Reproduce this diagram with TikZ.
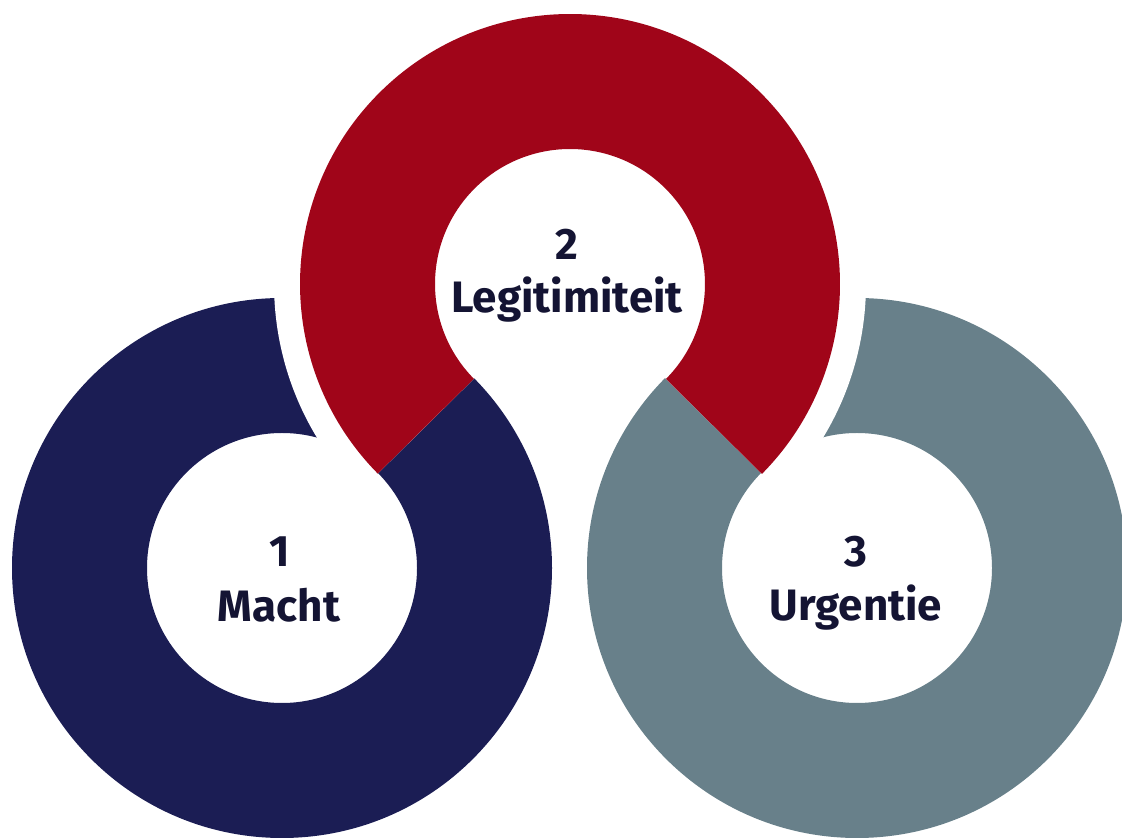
\documentclass[tikz,border=0pt]{standalone}
\usepackage{fontspec}
\setmainfont{Fira Sans}
\definecolor{navyring}{HTML}{1B1D54}
\definecolor{redring}{HTML}{A00519}
\definecolor{greyring}{HTML}{68808A}
\definecolor{labelcol}{HTML}{141433}
\tikzset{
  lbl/.style={inner sep=0pt, anchor=base, text=labelcol, font=\bfseries\fontsize{44}{50}\selectfont},
}
\begin{document}
\begin{tikzpicture}[x=1pt,y=1pt]
\useasboundingbox (0,0) rectangle (1122,838);
\clip (0,0) rectangle (1122,838);
\coordinate (cn) at (282,270);
\coordinate (cr) at (570,554);
\coordinate (cg) at (857,270);
% navy and grey full rings
\fill[navyring, even odd rule] (cn) circle[radius=270] (cn) circle[radius=135];
\fill[greyring, even odd rule] (cg) circle[radius=270] (cg) circle[radius=135];
% white gap around red ring
\fill[white] (cr) -- ++(-44.7:296) arc[start angle=-44.7, end angle=224.6, radius=296] -- cycle;
% red ring sector
\fill[redring] ([shift={(-44.7:270)}]cr) arc[start angle=-44.7, end angle=224.6, radius=270]
  -- ([shift={(224.6:135)}]cr) arc[start angle=224.6, end angle=-44.7, radius=135] -- cycle;
% labels
\node[lbl] (n1) at (280,271) {1};
\node[lbl] (t1) at (279,216) {Macht};
\node[lbl] (n2) at (567,578) {2};
\node[lbl] (t2) at (567,525) {Legitimiteit};
\node[lbl] (n3) at (856,271) {3};
\node[lbl] (t3) at (856,217) {Urgentie};
\end{tikzpicture}
\end{document}
